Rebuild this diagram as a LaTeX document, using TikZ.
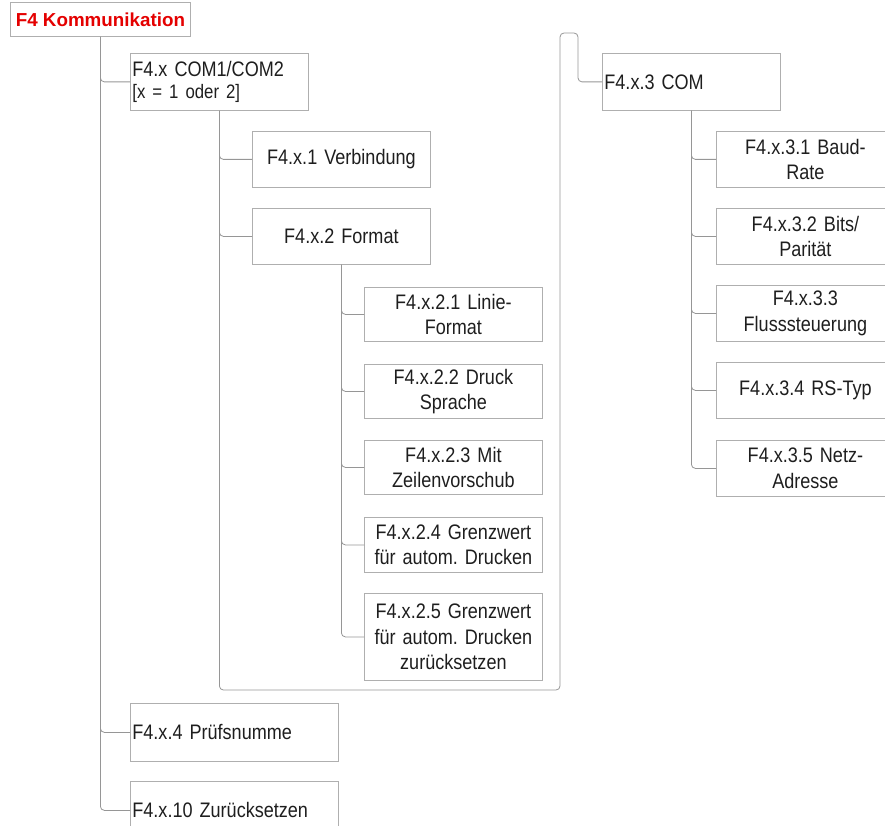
\documentclass[tikz,border=0pt]{standalone}
\usepackage{fontspec}
\setmainfont{Liberation Sans}[FakeStretch=0.86]
\newfontfamily\titleFont{Liberation Sans}
\usepackage{tikz}
\usepackage{xcolor}
\definecolor{lineGray}{RGB}{150,150,150}
\definecolor{boxGray}{RGB}{175,175,175}
\definecolor{titleRed}{RGB}{228,0,0}
\definecolor{textDark}{RGB}{30,30,30}
\frenchspacing

\begin{document}
\begin{tikzpicture}[x=1pt,y=-1pt]
% Define styles
\tikzstyle{box}=[rectangle, draw=boxGray, line width=0.8pt, anchor=north west, inner xsep=3pt, inner ysep=2pt, text width=172pt, align=center, text=textDark, font=\fontsize{21}{25.5}\selectfont]
\tikzstyle{leftBox}=[box, inner xsep=2pt, text width=174pt, align=left]
\tikzstyle{wideBox}=[leftBox, text width=204pt]
\tikzstyle{titleBox}=[rectangle, draw=boxGray, line width=0.8pt, anchor=north west, minimum width=180pt, minimum height=34pt, text=titleRed, font=\titleFont\bfseries\fontsize{18.8}{22}\selectfont]
\tikzstyle{conn}=[draw=lineGray, line width=0.8pt, rounded corners=4pt]

\clip (0,0) rectangle (885,826);

% Draw title
\node[titleBox] (title) at (10,2) {F4 Kommunikation};

% Draw first level
\node[leftBox, minimum height=57pt] (com12) at (130,53) {F4.x COM1/COM2\\[-3pt]{\fontsize{19.5}{22}\selectfont [x = 1 oder 2]}};
\node[wideBox, minimum height=58pt] (pruef) at (130,703) {F4.x.4 Prüfsnumme};
\node[wideBox, minimum height=58pt] (reset) at (130,781) {F4.x.10 Zurücksetzen};

% Draw second level
\node[box, minimum height=56pt] (verb) at (252,131) {F4.x.1 Verbindung};
\node[box, minimum height=56pt] (fmt) at (252,208) {F4.x.2 Format};

% Draw format entries
\node[box, minimum height=54pt] (f21) at (364,287) {F4.x.2.1 Linie-\\Format};
\node[box, minimum height=54pt] (f22) at (364,364) {F4.x.2.2 Druck\\Sprache};
\node[box, minimum height=54pt] (f23) at (364,440) {F4.x.2.3 Mit\\Zeilenvorschub};
\node[box, minimum height=55pt] (f24) at (364,517) {F4.x.2.4 Grenzwert\\für autom. Drucken};
\node[box, minimum height=87pt] (f25) at (364,593) {F4.x.2.5 Grenzwert\\für autom. Drucken\\zurücksetzen};

% Draw COM column
\node[leftBox, minimum height=57pt] (com3) at (602,53) {F4.x.3 COM};
\node[box, minimum height=56pt] (f31) at (716,131) {F4.x.3.1 Baud-\\Rate};
\node[box, minimum height=56pt] (f32) at (716,208) {F4.x.3.2 Bits/\\Parität};
\node[box, minimum height=56pt] (f33) at (716,285) {F4.x.3.3\\Flusssteuerung};
\node[box, minimum height=56pt] (f34) at (716,362) {F4.x.3.4 RS-Typ};
\node[box, minimum height=56pt] (f35) at (716,440) {F4.x.3.5 Netz-\\Adresse};

% Connectors
\draw[conn] (title.south) |- (com12.west);
\draw[conn] (title.south) |- (pruef.west);
\draw[conn] (title.south) |- (reset.west);
\draw[conn] (com12.south) |- (verb.west);
\draw[conn] (com12.south) |- (fmt.west);
\foreach \n in {f21,f22,f23,f24,f25}
  \draw[conn] (fmt.south) |- (\n.west);
\foreach \n in {f31,f32,f33,f34,f35}
  \draw[conn] (com3.south) |- (\n.west);

% Loop over to COM column
\coordinate (loopLow) at (560,690);
\coordinate (loopHigh) at (560,33);
\draw[conn] (com12.south) |- (loopLow) -- (loopHigh) -- ++(18,0) |- (com3.west);
\end{tikzpicture}
\end{document}
